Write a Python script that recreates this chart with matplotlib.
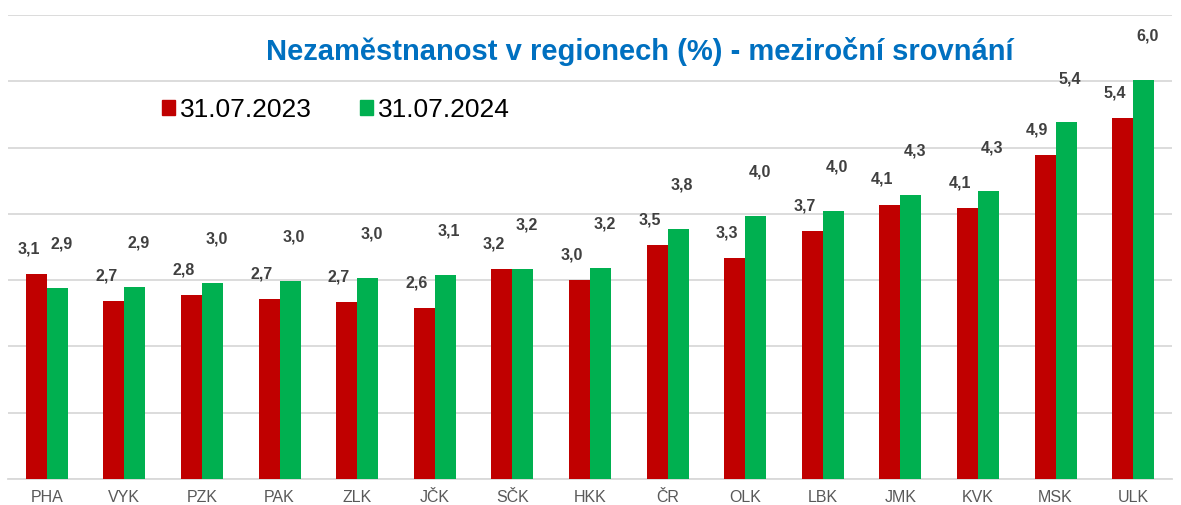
import numpy as np
import matplotlib.pyplot as plt
from matplotlib.patches import Patch

plt.rcParams['font.family'] = ['Liberation Sans', 'DejaVu Sans']

regions = ['PHA', 'VYK', 'PZK', 'PAK', 'ZLK', 'JČK', 'SČK', 'HKK', 'ČR',
           'OLK', 'LBK', 'JMK', 'KVK', 'MSK', 'ULK']
# unemployment rate (%) per region
rate_2023 = [3.09, 2.68, 2.77, 2.72, 2.67, 2.58, 3.17, 3.00, 3.53,
             3.33, 3.74, 4.14, 4.09, 4.89, 5.44]
rate_2024 = [2.88, 2.90, 2.96, 2.99, 3.03, 3.08, 3.17, 3.18, 3.77,
             3.97, 4.04, 4.29, 4.34, 5.38, 6.02]
series_names = ['31.07.2023', '31.07.2024']

red = '#C00000'
green = '#00B050'

fig = plt.figure(figsize=(11.81, 5.05), dpi=100)
ax = fig.add_axes([8 / 1181, 26 / 505, 1164 / 1181, 464 / 505])

x = np.arange(len(regions))
w = 0.27
ax.bar(x - w / 2, rate_2023, w, color=red, zorder=3)
ax.bar(x + w / 2, rate_2024, w, color=green, zorder=3)

def fmt(v):
    return ('%.1f' % v).replace('.', ',')

for i in range(len(regions)):
    ax.text(x[i] - w / 2 - 0.1, rate_2023[i] + 0.38, fmt(rate_2023[i]),
            ha='center', va='center', fontsize=11.5, fontweight='bold',
            color='#404040', zorder=4)
    ax.text(x[i] + w / 2 + 0.05, rate_2024[i] + 0.66, fmt(rate_2024[i]),
            ha='center', va='center', fontsize=11.5, fontweight='bold',
            color='#404040', zorder=4)

ax.set_xlim(-0.5, len(regions) - 0.5)
ax.set_ylim(0, 7)
ax.set_yticks(np.arange(0, 8, 1))
ax.yaxis.grid(True, color='#d9d9d9', linewidth=1.3, zorder=0)
ax.set_yticklabels([])
ax.tick_params(axis='y', length=0)
ax.set_xticks(x)
ax.set_xticklabels(regions, fontsize=11.5, color='#595959')
ax.tick_params(axis='x', length=0, pad=8)
for s in ['top', 'right', 'left']:
    ax.spines[s].set_visible(False)
ax.spines['bottom'].set_color('#d9d9d9')
ax.spines['bottom'].set_linewidth(1.3)

ax.text(0.5425, 0.922, 'Nezaměstnanost v regionech (%) - meziroční srovnání',
        transform=ax.transAxes, ha='center', va='center', fontsize=21,
        fontweight='bold', color='#0070C0', zorder=5)

handles = [Patch(color=red), Patch(color=green)]
leg = ax.legend(handles, series_names, loc='center left',
                bbox_to_anchor=(130 / 1164, 0.795), frameon=False,
                fontsize=19, handlelength=0.5, handleheight=0.5,
                handletextpad=0.2, columnspacing=1.8, ncol=2)

fig.savefig('out.png', dpi=100)
